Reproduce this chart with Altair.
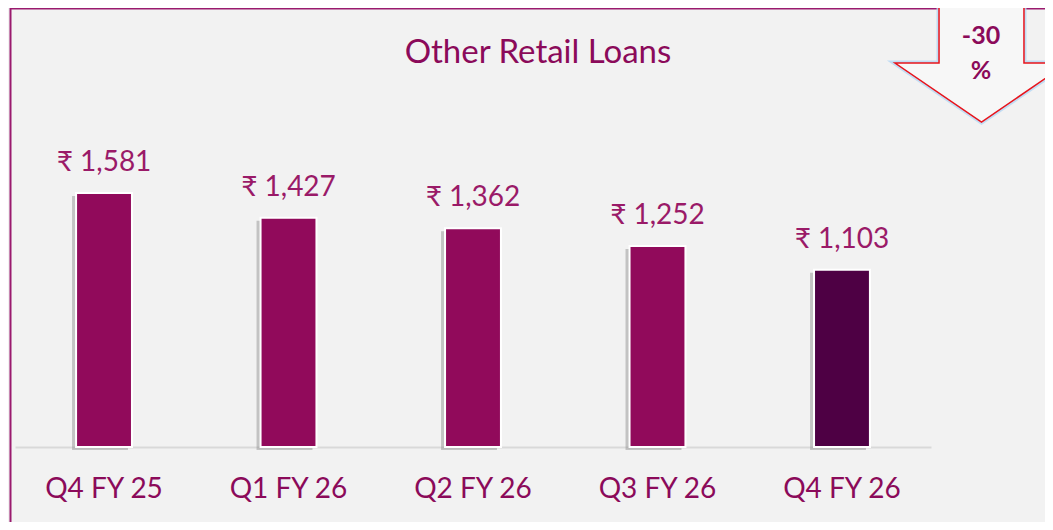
import altair as alt
import pandas as pd

quarters = ["Q4 FY 25", "Q1 FY 26", "Q2 FY 26", "Q3 FY 26", "Q4 FY 26"]
values = [1581, 1427, 1362, 1252, 1103]
bar_colors = ["#910a5b", "#910a5b", "#910a5b", "#910a5b", "#4e0044"]
title_text = "Other Retail Loans"
change_line1 = "-30"
change_line2 = "%"

FONT = "Lato"
PURPLE = "#8b0a5a"

df = pd.DataFrame({
    "q": quarters,
    "v": values,
    "c": bar_colors,
    "label": [f"₹ {v:,}" for v in values],
})

W, H = 916, 439
x = alt.X("q:N", sort=quarters,
          scale=alt.Scale(paddingInner=0.697, paddingOuter=0.331),
          axis=alt.Axis(title=None, labelAngle=0, labelFontSize=28, labelFont=FONT,
                        labelColor=PURPLE, labelPadding=28, ticks=False,
                        domainColor="#d9d9d9", domainWidth=2))
y = alt.Y("v:Q", scale=alt.Scale(domain=[0, 2733], nice=False, zero=True), axis=None)

base = alt.Chart(df)

shadow = base.mark_bar(color="#8a8a8a", opacity=0.45, xOffset=-4, yOffset=3).encode(x=x, y=y)
bars = base.mark_bar(stroke="white", strokeWidth=2).encode(
    x=x, y=y, color=alt.Color("c:N", scale=None))
labels = base.mark_text(fontSize=28, font=FONT, color="#9a1a68", dy=-30, baseline="middle").encode(
    x=x, y=y, text="label:N")

one = pd.DataFrame({"k": [0]})
ob = alt.Chart(one)
left_line = ob.mark_rule(color="#9a1a6e", strokeWidth=2).encode(
    x=alt.value(-4.5), y=alt.value(-5), y2=alt.value(H + 80))
top_line = ob.mark_rule(color="#9a1a6e", strokeWidth=2).encode(
    x=alt.value(-4.5), x2=alt.value(W + 130), y=alt.value(0.5))
title = ob.mark_text(fontSize=33, font=FONT, color=PURPLE, baseline="middle").encode(
    x=alt.value(523), y=alt.value(45), text=alt.value(title_text))

arrow_path = "M-0.491,-0.665L0.491,-0.665L0.491,-0.017L1,-0.017L0,0.665L-1,-0.017L-0.491,-0.017Z"
arrow_glow = ob.mark_point(shape=arrow_path, size=29929, filled=False, stroke="#b5d8f5",
                           strokeWidth=5, opacity=0.8).encode(
    x=alt.value(966.5), y=alt.value(56.5))
arrow = ob.mark_point(shape=arrow_path, size=29929, filled=True, fill="#f7f7f7", opacity=1,
                      stroke="#e8141b", strokeWidth=1.5).encode(
    x=alt.value(966.5), y=alt.value(56.5))
t1 = ob.mark_text(fontSize=25, font=FONT, fontWeight="bold", color=PURPLE, baseline="middle").encode(
    x=alt.value(966), y=alt.value(28), text=alt.value(change_line1))
t2 = ob.mark_text(fontSize=25, font=FONT, fontWeight="bold", color=PURPLE, baseline="middle").encode(
    x=alt.value(966), y=alt.value(63), text=alt.value(change_line2))

chart = alt.layer(left_line, top_line, shadow, bars, labels, title, arrow_glow, arrow, t1, t2).properties(
    width=W, height=H,
    autosize=alt.AutoSizeParams(type="none"),
    padding={"left": 7, "top": 0, "right": 114, "bottom": 75},
    background="#f2f2f2",
).configure_view(stroke=None)

chart.save("out.html", embed_options={"renderer": "svg", "actions": False})
